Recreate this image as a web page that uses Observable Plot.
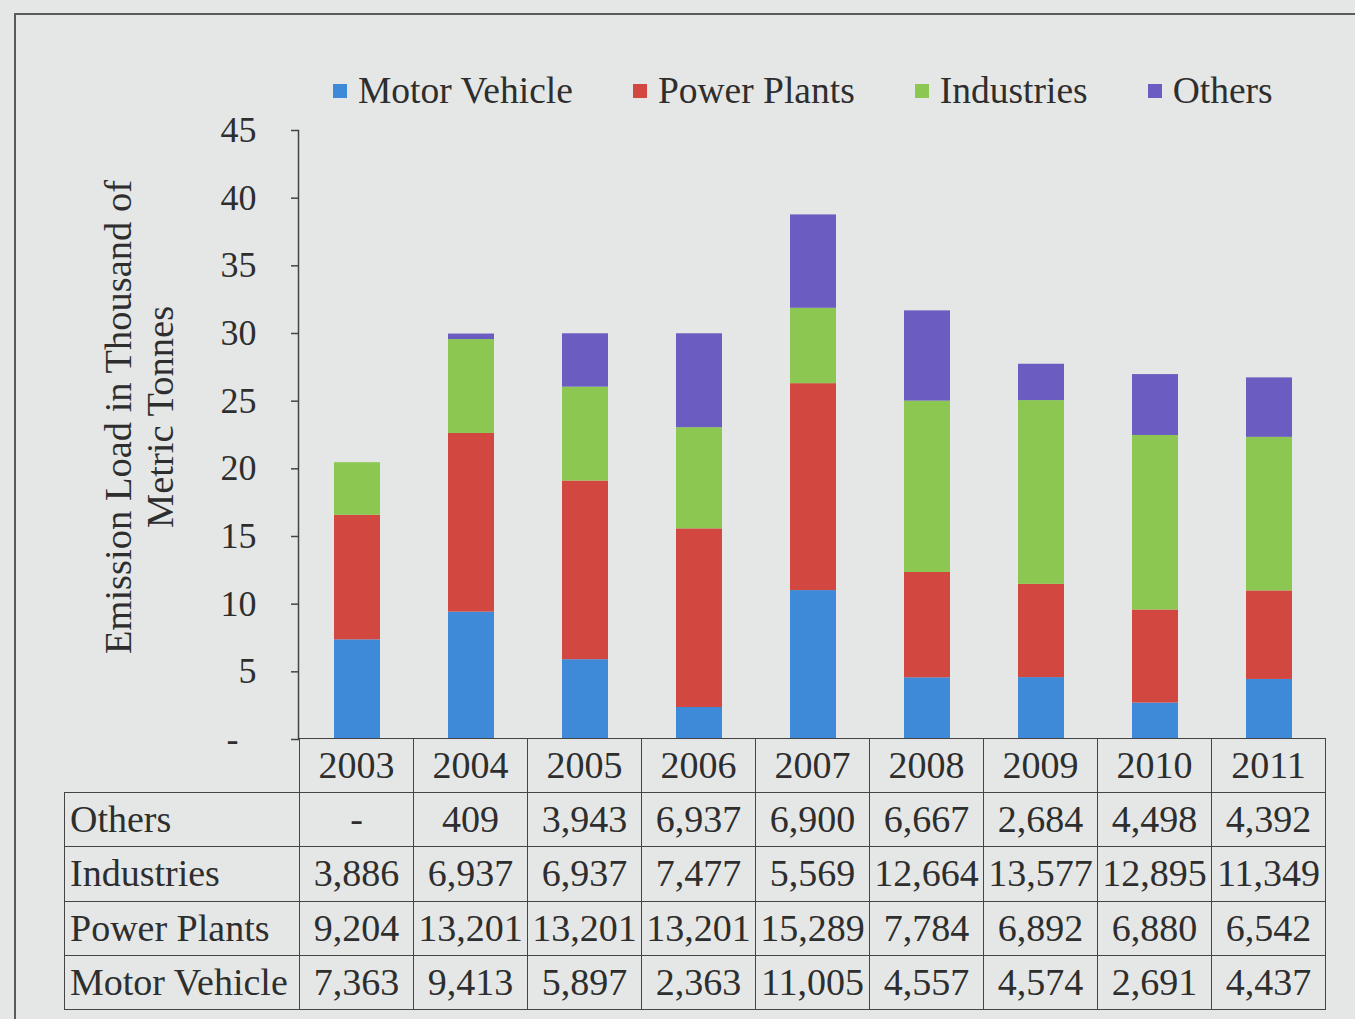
<!DOCTYPE html>
<html>
<head>
<meta charset="utf-8">
<script src="https://cdn.jsdelivr.net/npm/d3@7"></script>
<script src="https://cdn.jsdelivr.net/npm/@observablehq/plot@0.6"></script>
<style>
  html, body { margin: 0; padding: 0; background: #e5e7e6; }
  #wrap { position: relative; width: 1355px; height: 1019px; overflow: hidden;
          font-family: "Liberation Serif", "Times New Roman", serif; color: #2e2e2e; }
  #frame { position: absolute; left: 14px; top: 13px; right: -10px; bottom: -10px;
           border-top: 2px solid #5a5a5a; border-left: 2px solid #5a5a5a; }
  #chart { position: absolute; left: 0; top: 0; }
  #legend { position: absolute; left: 333px; top: 70px; display: flex; font-size: 37.5px; line-height: 42px; white-space: nowrap; }
  #legend .item { display: flex; align-items: center; margin-right: 60px; }
  #legend .sw { width: 14px; height: 14px; margin-right: 11px; }
  #tbl { position: absolute; left: 64px; top: 738px; border-collapse: collapse; table-layout: fixed;
         font-size: 38px; color: #2e2e2e; }
  #tbl td { border: 1.5px solid #444; height: 53.2px; padding: 0 3px; text-align: center;
            white-space: nowrap; overflow: visible; line-height: 53px; }
  #tbl td.lab { text-align: left; padding-left: 5px; }
  #tbl td.blank { border-top: none; border-left: none; }
</style>
</head>
<body>
<div id="wrap">
  <div id="frame"></div>
  <div id="chart"></div>
  <div id="legend"></div>
</div>
<script>
// ---- data ----
const years = ["2003", "2004", "2005", "2006", "2007", "2008", "2009", "2010", "2011"];
const seriesNames = ["Motor Vehicle", "Power Plants", "Industries", "Others"];
const seriesColors = ["#3f8ad8", "#d2473f", "#8cc751", "#6a5cc0"];
const motorVehicle = [7363, 9413, 5897, 2363, 11005, 4557, 4574, 2691, 4437];
const powerPlants  = [9204, 13201, 13201, 13201, 15289, 7784, 6892, 6880, 6542];
const industries   = [3886, 6937, 6937, 7477, 5569, 12664, 13577, 12895, 11349];
const others       = [0, 409, 3943, 6937, 6900, 6667, 2684, 4498, 4392];
const yTicks = [0, 5, 10, 15, 20, 25, 30, 35, 40, 45];
const yTitle = "Emission Load in Thousand of\nMetric Tonnes";
const tableRowOrder = ["Others", "Industries", "Power Plants", "Motor Vehicle"];

const seriesValues = {
  "Motor Vehicle": motorVehicle,
  "Power Plants": powerPlants,
  "Industries": industries,
  "Others": others
};

// long-form rows, in stacking order (bottom to top)
const rows = [];
seriesNames.forEach(s => {
  years.forEach((yr, i) => rows.push({year: yr, series: s, value: seriesValues[s][i] / 1000}));
});

const textColor = "#2e2e2e";
const axisColor = "#444";

const plot = Plot.plot({
  width: 1355,
  height: 740,
  marginLeft: 298,
  marginRight: 27,
  marginTop: 130,
  marginBottom: 1,
  style: {background: "transparent", fontFamily: "'Liberation Serif', 'Times New Roman', serif", fontSize: "36px", color: textColor, overflow: "visible"},
  x: {domain: years, paddingInner: 0.6, paddingOuter: 0.3, axis: null},
  y: {domain: [0, 45], axis: null},
  color: {domain: seriesNames, range: seriesColors},
  marks: [
    Plot.barY(rows, {x: "year", y: "value", fill: "series", order: null}),
    Plot.axisY({
      ticks: yTicks,
      tickSize: 7,
      tickPadding: 35,
      stroke: axisColor,
      strokeWidth: 1.5,
      fill: textColor,
      fontSize: 36,
      label: null,
      tickFormat: d => d === 0 ? "-\u00a0\u00a0" : String(d)
    }),
    Plot.frame({anchor: "left", stroke: axisColor, strokeWidth: 1.5}),
    Plot.text([yTitle], {
      frameAnchor: "left",
      textAnchor: "middle",
      lineAnchor: "middle",
      dx: -160,
      dy: -18,
      rotate: -90,
      fontSize: 38.5,
      lineHeight: 1.09,
      fill: textColor
    })
  ]
});
document.getElementById("chart").appendChild(plot);

// ---- legend ----
const legend = document.getElementById("legend");
seriesNames.forEach((s, i) => {
  const item = document.createElement("div");
  item.className = "item";
  const sw = document.createElement("span");
  sw.className = "sw";
  sw.style.background = seriesColors[i];
  const t = document.createElement("span");
  t.textContent = s;
  item.appendChild(sw);
  item.appendChild(t);
  legend.appendChild(item);
});

// ---- data table aligned with the x scale ----
const xs = plot.scale("x");
const step = xs.step;
const fmt = d3.format(",");
const tbl = document.createElement("table");
tbl.id = "tbl";
const labelW = xs.apply(years[0]) - (step - xs.bandwidth) / 2 - 65;
tbl.style.width = (labelW + step * years.length + 1) + "px";
const cg = document.createElement("colgroup");
const c0 = document.createElement("col"); c0.style.width = labelW + "px"; cg.appendChild(c0);
years.forEach(() => { const c = document.createElement("col"); c.style.width = step + "px"; cg.appendChild(c); });
tbl.appendChild(cg);

const head = document.createElement("tr");
const blank = document.createElement("td"); blank.className = "blank"; head.appendChild(blank);
years.forEach(yr => { const td = document.createElement("td"); td.textContent = yr; head.appendChild(td); });
tbl.appendChild(head);

tableRowOrder.forEach(s => {
  const tr = document.createElement("tr");
  const lab = document.createElement("td"); lab.className = "lab"; lab.textContent = s; tr.appendChild(lab);
  seriesValues[s].forEach(v => {
    const td = document.createElement("td");
    td.textContent = v === 0 ? "-" : fmt(v);
    tr.appendChild(td);
  });
  tbl.appendChild(tr);
});
document.getElementById("wrap").appendChild(tbl);
</script>
</body>
</html>
